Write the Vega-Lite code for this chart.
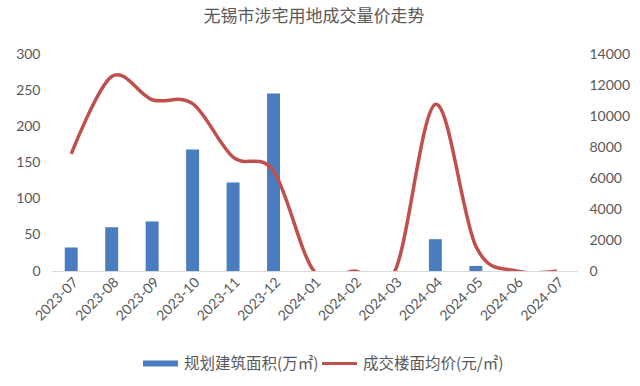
{
  "$schema": "https://vega.github.io/schema/vega-lite/v6.json",
  "width": 526,
  "height": 217,
  "autosize": {"type": "none"},
  "padding": {"left": 51, "top": 54, "right": 63, "bottom": 115},
  "background": "white",
  "config": {"view": {"stroke": null}},
  "title": {"text": "无锡市涉宅用地成交量价走势", "font": "Noto Sans CJK SC", "fontSize": 17, "fontWeight": "normal", "color": "#595959", "offset": 21, "anchor": "middle"},
  "data": {"values": [
    {"month": "2023-07", "area": 32.5, "price": 7550},
    {"month": "2023-08", "area": 60.5, "price": 12550},
    {"month": "2023-09", "area": 68.5, "price": 11050},
    {"month": "2023-10", "area": 168, "price": 10800},
    {"month": "2023-11", "area": 122.5, "price": 7350},
    {"month": "2023-12", "area": 245.5, "price": 6450},
    {"month": "2024-01", "area": 0, "price": 0},
    {"month": "2024-02", "area": 0, "price": 0},
    {"month": "2024-03", "area": 0, "price": 0},
    {"month": "2024-04", "area": 44, "price": 10750},
    {"month": "2024-05", "area": 7, "price": 1600},
    {"month": "2024-06", "area": 0, "price": 0},
    {"month": "2024-07", "area": 0, "price": 0}
  ]},
  "encoding": {
    "x": {"field": "month", "type": "ordinal", "sort": null,
      "scale": {"paddingInner": 0.68, "paddingOuter": 0.34},
      "axis": {"title": null, "labelAngle": -45, "labelFont": "Lato", "labelFontSize": 14, "labelColor": "#595959", "domainColor": "#d9d9d9", "domainWidth": 1, "ticks": false, "labelPadding": 4, "zindex": 0}}
  },
  "layer": [
    {
      "mark": {"type": "bar"},
      "encoding": {
        "y": {"field": "area", "type": "quantitative", "scale": {"domain": [0, 300]},
          "axis": {"title": null, "orient": "left", "values": [0, 50, 100, 150, 200, 250, 300], "labelFont": "Lato", "labelFontSize": 14, "labelColor": "#595959", "domain": false, "ticks": false, "grid": false, "labelPadding": 11}},
        "color": {"datum": "规划建筑面积(万㎡)", "type": "nominal",
          "scale": {"domain": ["规划建筑面积(万㎡)", "成交楼面均价(元/㎡)"], "range": ["#4a7cc0", "#c0504d"]},
          "legend": {"title": null, "orient": "none", "legendX": 92, "legendY": 292, "direction": "horizontal", "symbolSize": 1225, "labelFont": "Noto Sans CJK SC", "labelFontSize": 15.5, "labelColor": "#595959", "labelOffset": 6, "columnPadding": 3,
            "encode": {"symbols": {"update": {
              "shape": {"signal": "datum.value === '规划建筑面积(万㎡)' ? 'M-1,-0.17H1V0.17H-1Z' : 'M-1,-0.09H1V0.09H-1Z'"},
              "fill": {"signal": "datum.value === '规划建筑面积(万㎡)' ? '#4a7cc0' : '#c0504d'"},
              "stroke": {"value": "transparent"},
              "strokeWidth": {"value": 0}
            }}}}
        }
      }
    },
    {
      "mark": {"type": "line", "interpolate": "cardinal", "clip": true, "strokeWidth": 3.5},
      "encoding": {
        "y": {"field": "price", "type": "quantitative", "scale": {"domain": [0, 14000]},
          "axis": {"title": null, "orient": "right", "format": "d", "values": [0, 2000, 4000, 6000, 8000, 10000, 12000, 14000], "labelFont": "Lato", "labelFontSize": 14, "labelColor": "#595959", "domain": false, "ticks": false, "grid": false, "labelPadding": 12}},
        "color": {"datum": "成交楼面均价(元/㎡)", "type": "nominal"}
      }
    }
  ],
  "resolve": {"scale": {"y": "independent"}}
}
